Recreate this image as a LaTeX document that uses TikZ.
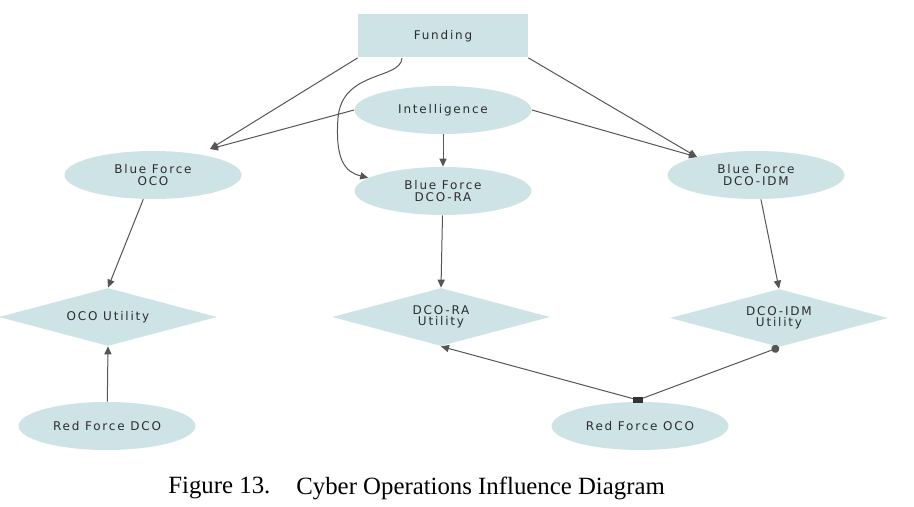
\documentclass[tikz,border=0pt]{standalone}
\usepackage{fontspec}
\setmainfont{Liberation Serif}
\newfontfamily\nodefont[LetterSpace=15]{DejaVu Sans}
\usepackage{tikz}
\usetikzlibrary{arrows.meta,shapes.geometric}

\definecolor{nodeblue}{RGB}{206,227,230}
\definecolor{edgegray}{RGB}{85,85,85}
\definecolor{textgray}{RGB}{45,45,45}

\begin{document}
\begin{tikzpicture}[
            x=0.5pt,y=-0.5pt,
            base/.style={fill=nodeblue,inner sep=0pt,align=center,text=textgray,
              font=\nodefont\fontsize{6}{5.6}\selectfont},
            block/.style={base,rectangle,minimum width=85pt,minimum height=21.5pt},
            chance/.style={base,ellipse,minimum width=88.5pt,minimum height=24pt},
            utility/.style={base,diamond,aspect=3.7,minimum width=109pt,minimum height=29pt},
            caption/.style={anchor=west,inner sep=0pt,font=\fontsize{12.4}{14}\selectfont},
            infl/.style={draw=edgegray,line width=0.5pt,-{Triangle[length=4pt,width=3.6pt]}},
            every edge/.style={infl}
          ]
          \useasboundingbox (0,0) rectangle (914,507);

          %decision and chance nodes
          \node[block] (fund) at (443,36) {Funding};
          \node[chance] (intel) at (443,110) {Intelligence};
          \node[chance] (bfoco) at (153,175) {Blue Force\\OCO};
          \node[chance] (bfra) at (443,191) {Blue Force\\DCO-RA};
          \node[chance] (bfidm) at (756,175) {Blue Force\\DCO-IDM};

          %utility nodes
          \node[utility] (ocout) at (108,317) {OCO Utility};
          \node[utility] (raut) at (441,317) {DCO-RA\\Utility};
          \node[utility] (idmut) at (779,318) {DCO-IDM\\Utility};

          %red force
          \node[chance] (rfdco) at (107,426) {Red Force DCO};
          \node[chance] (rfoco) at (640,426) {Red Force OCO};

          %caption
          \node[caption] (cap1) at (168,488) {Figure 13.};
          \node[caption] (cap2) at (296,488) {Cyber Operations Influence Diagram};

          %influences
          \coordinate (ocotip) at (210,149);
          \coordinate (idmtip) at (697,157);
          \coordinate (bend) at (338,118);
          \coordinate (rftail) at (638,400);
          \path
          (fund.south west) edge (ocotip)
          (fund.south east) edge (idmtip)
          (intel.west) edge (ocotip)
          (intel) edge (bfra)
          (intel.east) edge (idmtip)
          (bfoco) edge (ocout.north)
          (bfra) edge (raut.north)
          (bfidm) edge (idmut.north)
          (rfdco) edge (ocout.south)
          ;
          \draw[infl] ([xshift=-20.5pt]fund.south) .. controls (401,80) and (342,70) .. (bend)
            .. controls (335,160) and (345,172) .. (bfra.170);
          \draw[infl] (rftail) -- (raut.south);
          \draw[infl,-{Circle[length=4pt]}] (rftail) -- (idmut.south);
          \fill[edgegray!60!black] ([xshift=-2.5pt,yshift=-1.5pt]rftail) rectangle ([xshift=2.5pt,yshift=1.5pt]rftail);

      \end{tikzpicture}
\end{document}
